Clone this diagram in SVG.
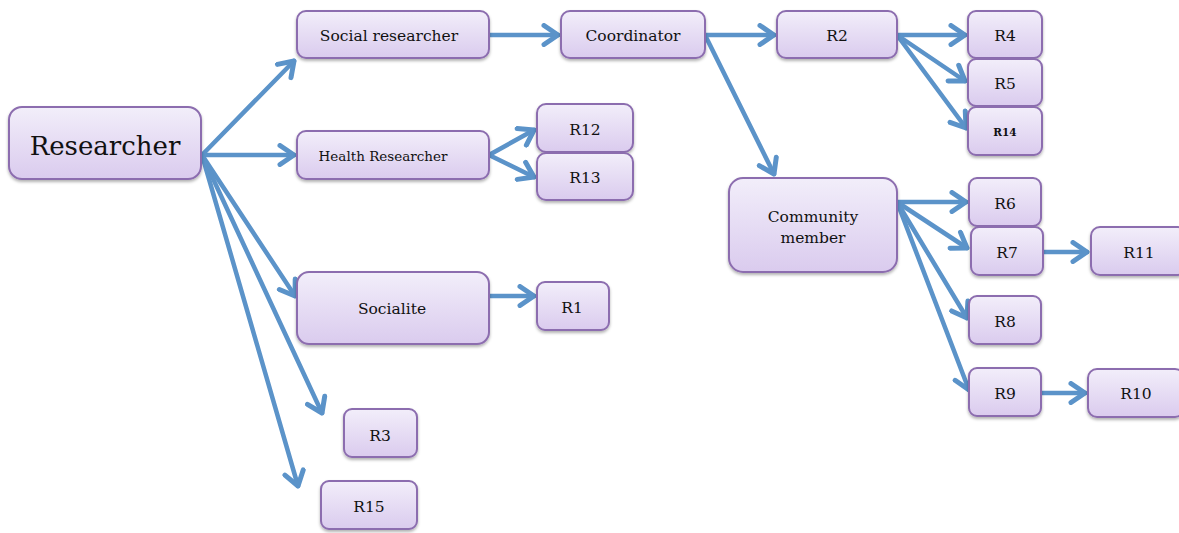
<svg xmlns="http://www.w3.org/2000/svg" width="1179" height="533" viewBox="0 0 1179 533">
<defs>
<linearGradient id="g" x1="0" y1="0" x2="0" y2="1">
<stop offset="0" stop-color="#f2eefa"/>
<stop offset="1" stop-color="#dacbee"/>
</linearGradient>
<filter id="sh" x="-10%" y="-10%" width="130%" height="140%">
<feDropShadow dx="0" dy="2" stdDeviation="1.5" flood-color="#000" flood-opacity="0.3"/>
</filter>
<marker id="ah" viewBox="-18 -12 22 24" markerWidth="22" markerHeight="24" refX="0" refY="0" orient="auto" markerUnits="userSpaceOnUse">
<path d="M-14,-9.5 L0,0 L-14,9.5" fill="none" stroke="#5b93c9" stroke-width="5" stroke-linecap="round" stroke-linejoin="round"/>
</marker>
</defs>
<style>
.n rect{fill:url(#g);stroke:#8c6daf;stroke-width:2;filter:url(#sh)}
.n text{font-family:"DejaVu Serif","Liberation Serif",serif;fill:#111;text-anchor:middle;font-size:15.5px}
#edges line{stroke:#5b93c9;stroke-width:4.5;stroke-linecap:round;marker-end:url(#ah)}
</style>
<rect width="1179" height="533" fill="#fff"/>
<g id="edges">
<line x1="202" y1="155" x2="294" y2="61"/>
<line x1="202" y1="155" x2="294" y2="155"/>
<line x1="202" y1="155" x2="295" y2="296"/>
<line x1="202" y1="155" x2="322" y2="413"/>
<line x1="202" y1="155" x2="298" y2="486"/>
<line x1="489" y1="35" x2="558" y2="35"/>
<line x1="705" y1="35" x2="774" y2="35"/>
<line x1="705" y1="35" x2="774" y2="174"/>
<line x1="897" y1="35" x2="965" y2="35"/>
<line x1="897" y1="35" x2="965" y2="81"/>
<line x1="897" y1="35" x2="966" y2="128"/>
<line x1="489" y1="155" x2="534" y2="130"/>
<line x1="489" y1="155" x2="534" y2="177"/>
<line x1="489" y1="296" x2="534" y2="296"/>
<line x1="897" y1="202" x2="966" y2="202"/>
<line x1="897" y1="202" x2="967" y2="248"/>
<line x1="897" y1="202" x2="967" y2="318"/>
<line x1="897" y1="202" x2="969" y2="390"/>
<line x1="1043" y1="252" x2="1087" y2="252"/>
<line x1="1041" y1="393" x2="1085" y2="393"/>
</g>
<g id="researcher" class="n"><rect x="9" y="107" width="192" height="72" rx="13"/><text x="105" y="155" style="font-size:26px">Researcher</text></g>
<g id="social" class="n"><rect x="297" y="11" width="192" height="47" rx="9"/><text x="389" y="41">Social researcher</text></g>
<g id="coordinator" class="n"><rect x="561" y="11" width="144" height="47" rx="9"/><text x="633" y="41">Coordinator</text></g>
<g id="r2" class="n"><rect x="777" y="11" width="120" height="47" rx="9"/><text x="837" y="41">R2</text></g>
<g id="r4" class="n"><rect x="968" y="11" width="74" height="47" rx="8"/><text x="1005" y="41">R4</text></g>
<g id="r5" class="n"><rect x="968" y="59" width="74" height="47" rx="8"/><text x="1005" y="89">R5</text></g>
<g id="r14" class="n"><rect x="968" y="107" width="74" height="48" rx="8"/><text x="1005" y="136" style="font-size:10.5px;font-weight:bold">R14</text></g>
<g id="health" class="n"><rect x="297" y="131" width="192" height="48" rx="9"/><text x="383" y="161" style="font-size:13.5px">Health Researcher</text></g>
<g id="r12" class="n"><rect x="537" y="104" width="96" height="48" rx="9"/><text x="585" y="135">R12</text></g>
<g id="r13" class="n"><rect x="537" y="153" width="96" height="47" rx="9"/><text x="585" y="183">R13</text></g>
<g id="community" class="n"><rect x="729" y="178" width="168" height="94" rx="14"/><text x="813" y="222">Community</text><text x="813" y="243">member</text></g>
<g id="r6" class="n"><rect x="969" y="178" width="72" height="48" rx="8"/><text x="1005" y="209">R6</text></g>
<g id="r7" class="n"><rect x="971" y="227" width="72" height="48" rx="8"/><text x="1007" y="258">R7</text></g>
<g id="r11" class="n"><rect x="1091" y="227" width="96" height="48" rx="9"/><text x="1139" y="258">R11</text></g>
<g id="r8" class="n"><rect x="969" y="296" width="72" height="48" rx="8"/><text x="1005" y="327">R8</text></g>
<g id="r9" class="n"><rect x="969" y="368" width="72" height="48" rx="8"/><text x="1005" y="399">R9</text></g>
<g id="r10" class="n"><rect x="1088" y="369" width="96" height="48" rx="9"/><text x="1136" y="399">R10</text></g>
<g id="socialite" class="n"><rect x="297" y="272" width="192" height="72" rx="12"/><text x="392" y="314">Socialite</text></g>
<g id="r1" class="n"><rect x="537" y="282" width="72" height="48" rx="8"/><text x="572" y="313">R1</text></g>
<g id="r3" class="n"><rect x="344" y="409" width="73" height="48" rx="8"/><text x="380" y="441">R3</text></g>
<g id="r15" class="n"><rect x="321" y="481" width="96" height="48" rx="8"/><text x="369" y="512">R15</text></g>
</svg>
